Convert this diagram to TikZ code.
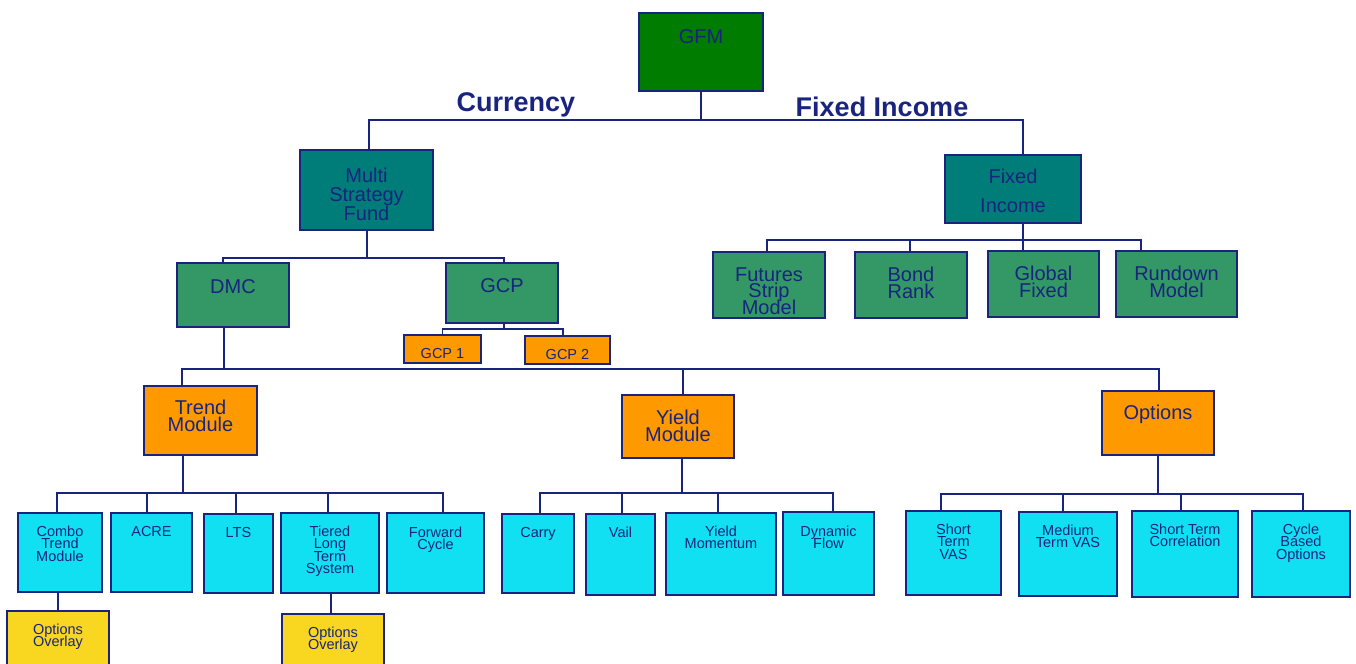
\documentclass[tikz,border=0pt]{standalone}
\usepackage{fontspec}
\setmainfont{Liberation Sans}
\usetikzlibrary{calc}
\definecolor{navy}{RGB}{25,36,126}
\definecolor{cgfm}{RGB}{0,124,0}
\definecolor{cteal}{RGB}{0,125,120}
\definecolor{csea}{RGB}{51,152,102}
\definecolor{corange}{RGB}{255,153,0}
\definecolor{ccyan}{RGB}{16,224,242}
\definecolor{cyellow}{RGB}{249,214,32}
\tikzset{
  box/.style={draw=navy, line width=1pt, inner sep=0pt, outer sep=0pt},
  txt/.style={text=navy, align=center, inner sep=0pt, anchor=base, execute at begin node={\lineskiplimit=-20pt\lineskip=0pt}},
  conn/.style={draw=navy, line width=0.9pt},
  big/.style={font=\fontsize{10}{9.5}\selectfont},
  small/.style={font=\fontsize{7.25}{6.25}\selectfont},
  head/.style={text=navy, inner sep=0pt, anchor=base, font=\bfseries\fontsize{13.5}{13.5}\selectfont},
}
% box: name, x1, y1, x2, y2, fill
\newcommand\bx[6]{\node[box,fill=#6,minimum width={(#4-#2)*0.5pt},minimum height={(#5-#3)*0.5pt}] (#1) at ({(#2+#4)/2},{(#3+#5)/2}) {};}
% text: box name, last baseline offset from top, style, text
\newcommand\tx[4]{\node[txt,#3] (#1-t) at ($(#1.north)+(0,#2)$) {#4};}
% connector: parent, parent dx, drop, child, child dx
\newcommand\cn[5]{\draw[conn] ($(#1.south)+(#2,0)$) -- ++(0,#3) -| ($(#4.north)+(#5,0)$);}
\begin{document}
\begin{tikzpicture}[x=0.5pt,y=-0.5pt]
\useasboundingbox (0,0) rectangle (1356,664);
\clip (0,0) rectangle (1356,664);
\fill[white] (0,0) rectangle (1356,664);
% boxes
\bx{gfm}{639}{13}{763}{91}{cgfm}
\bx{msf}{300}{150}{433}{230}{cteal}
\bx{fi}{945}{155}{1081}{223}{cteal}
\bx{dmc}{177}{263}{289}{327}{csea}
\bx{gcp}{446}{263}{558}{323}{csea}
\bx{gcpa}{404}{335}{481}{363}{corange}
\bx{gcpb}{525}{336}{610}{364}{corange}
\bx{fsm}{713}{252}{825}{318}{csea}
\bx{br}{855}{252}{967}{318}{csea}
\bx{gf}{988}{251}{1099}{317}{csea}
\bx{rm}{1116}{251}{1237}{317}{csea}
\bx{trend}{144}{386}{257}{455}{corange}
\bx{yield}{622}{395}{734}{458}{corange}
\bx{opt}{1102}{391}{1214}{455}{corange}
\bx{combo}{18}{513}{102}{592}{ccyan}
\bx{acre}{111}{513}{192}{592}{ccyan}
\bx{lts}{204}{514}{273}{593}{ccyan}
\bx{tiered}{281}{513}{379}{593}{ccyan}
\bx{fwd}{387}{513}{484}{593}{ccyan}
\bx{carry}{502}{514}{574}{593}{ccyan}
\bx{vail}{586}{514}{655}{595}{ccyan}
\bx{ym}{666}{513}{776}{595}{ccyan}
\bx{df}{783}{512}{874}{595}{ccyan}
\bx{stv}{906}{511}{1001}{595}{ccyan}
\bx{mtv}{1019}{512}{1117}{596}{ccyan}
\bx{stc}{1132}{511}{1238}{597}{ccyan}
\bx{cbo}{1252}{511}{1350}{597}{ccyan}
\bx{ooa}{7}{611}{109}{700}{cyellow}
\bx{oob}{282}{614}{384}{700}{cyellow}
% texts
\tx{gfm}{30}{big}{GFM}
\tx{msf}{70}{big}{Multi\\Strategy\\Fund}
\tx{fi}{57}{font=\fontsize{10}{14.5}\selectfont}{Fixed\\Income}
\tx{dmc}{30}{big}{DMC}
\tx{gcp}{29}{big}{GCP}
\tx{gcpa}{23}{small}{GCP 1}
\tx{gcpb}{23}{small}{GCP 2}
\tx{fsm}{62}{font=\fontsize{10}{8.25}\selectfont}{Futures\\Strip\\Model}
\tx{br}{46}{font=\fontsize{10}{8.5}\selectfont}{Bond\\Rank}
\tx{gf}{46}{font=\fontsize{10}{8.5}\selectfont}{Global\\Fixed}
\tx{rm}{46}{font=\fontsize{10}{8.5}\selectfont}{Rundown\\Model}
\tx{trend}{45}{font=\fontsize{10}{8.5}\selectfont}{Trend\\Module}
\tx{yield}{46}{font=\fontsize{10}{8.5}\selectfont}{Yield\\Module}
\tx{opt}{28}{big}{Options}
\tx{combo}{48}{small}{Combo\\Trend\\Module}
\tx{acre}{23}{small}{ACRE}
\tx{lts}{23}{small}{LTS}
\tx{tiered}{60.5}{small}{Tiered\\Long\\Term\\System}
\tx{fwd}{36.5}{small}{Forward\\Cycle}
\tx{carry}{23}{small}{Carry}
\tx{vail}{23}{small}{Vail}
\tx{ym}{35.5}{small}{Yield\\Momentum}
\tx{df}{36.5}{small}{Dynamic\\Flow}
\tx{stv}{48}{small}{Short\\Term\\VAS}
\tx{mtv}{35.5}{small}{Medium\\Term VAS}
\tx{stc}{35.5}{small}{Short Term\\Correlation}
\tx{cbo}{48}{small}{Cycle\\Based\\Options}
\tx{ooa}{35.5}{small}{Options\\Overlay}
\tx{oob}{35.5}{small}{Options\\Overlay}
\node[head] (cur) at (516,112) {Currency};
\node[head] (fix) at (882,116) {Fixed Income};
% connectors
\cn{gfm}{0}{29}{msf}{2.5}
\cn{gfm}{0}{29}{fi}{10}
\cn{msf}{0.5}{28}{dmc}{-10}
\cn{msf}{0.5}{28}{gcp}{2}
\cn{gcp}{2}{6}{gcpa}{0}
\cn{gcp}{2}{6}{gcpb}{-4.5}
\cn{fi}{10}{17}{fsm}{-2}
\cn{fi}{10}{17}{br}{-1}
\cn{fi}{10}{17}{gf}{-20.5}
\cn{fi}{10}{17}{rm}{-35.5}
\cn{dmc}{-9}{42}{trend}{-18.5}
\cn{dmc}{-9}{42}{yield}{5}
\cn{dmc}{-9}{42}{opt}{1}
\cn{trend}{-17.5}{38}{combo}{-3}
\cn{trend}{-17.5}{38}{acre}{-4.5}
\cn{trend}{-17.5}{38}{lts}{-2.5}
\cn{trend}{-17.5}{38}{tiered}{-2}
\cn{trend}{-17.5}{38}{fwd}{7.5}
\cn{yield}{4}{35}{carry}{2}
\cn{yield}{4}{35}{vail}{1.5}
\cn{yield}{4}{35}{ym}{-3}
\cn{yield}{4}{35}{df}{4.5}
\cn{opt}{0}{39}{stv}{-12.5}
\cn{opt}{0}{39}{mtv}{-5}
\cn{opt}{0}{39}{stc}{-4}
\cn{opt}{0}{39}{cbo}{2}
\cn{combo}{-2}{10}{ooa}{0}
\cn{tiered}{1}{10}{oob}{-2}
\end{tikzpicture}
\end{document}
